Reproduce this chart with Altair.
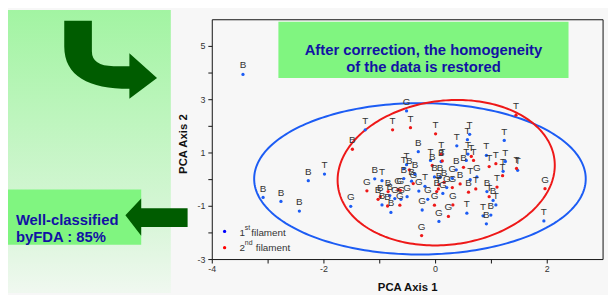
import altair as alt
import pandas as pd
import numpy as np

# ---------------- data ----------------
x1 = [-3.45, -0.52, -1.26, -0.31, 0.38, 0.61, 0.57, 1.23, -2.28, -1.99, -3.09, -2.77, -2.44, -1.52,
      -1.09, -0.96, 1.94, 1.47, 1.21, 1.25, 0.91, 0.58, 0.55, 0.37, 0.74, 0.62, 0.56, 0.85, 0.91, 0.99,
      0.06, -0.24, 0.13, -0.14, -0.30, -0.19, -0.43, -0.57, -0.52, -0.57, -0.09, 0.10, -0.02, 0.08,
      -0.62, -0.51, -0.73, -0.96, -0.80, 1.03, 0.20, -0.37, 0.30, -0.82, 0.92, 1.08]
y1 = [3.95, 2.58, 1.87, 1.05, 1.27, 1.70, 1.50, 1.47, -0.04, 0.21, -0.67, -0.82, -1.18, -1.00,
      0.03, -0.04, -1.55, 0.35, 0.31, 0.68, 0.91, 0.96, 0.72, 0.37, 0.10, 0.00, -1.26, -1.36, -1.66, -1.33,
      -1.57, -1.14, -0.52, -0.74, -0.43, -0.25, -0.06, 0.04, 0.56, 0.41, 0.72, 0.68, 0.10, 0.10,
      -0.74, -0.64, -0.71, -0.95, -1.23, -0.78, -0.30, 0.20, 0.05, -0.60, -0.45, -0.95]
lab1 = ["B", "G", "T", "B", "T", "T", "T", "T", "B", "T", "B", "B", "B", "G",
        "B", "T", "T", "T", "T", "T", "T", "T", "T", "B", "G", "T", "T", "T", "B", "B",
        "G", "G", "G", "G", "G", "T", "B", "B", "T", "T", "T", "B", "B", "B",
        "G", "G", "G", "B", "B", "B", "G", "B", "G", "B", "B", "T"]

x2 = [-0.77, -0.45, 0.00, -1.49, 1.44, 0.10, 1.96, -0.25, -1.23, 0.23, -0.99, -1.03, -0.86, -0.67,
      -0.64, -0.47, -0.06, 0.06, -0.02, 0.31, 0.44, 0.59, 0.72, 1.10, 0.96, 0.50, 0.64, 0.68, 0.96,
      1.08, 1.45, 1.20, -0.63, 0.05, 0.15, 0.30, 0.02, -0.85, -0.40, 0.12]
y2 = [1.87, 1.95, 1.72, 1.14, 2.42, 0.95, -0.34, -2.10, -0.42, -1.38, -0.64, -0.74, -0.99, -0.37,
      -0.96, 0.37, 0.53, -0.19, -0.96, -0.95, -0.16, -0.47, -0.35, -0.28, -0.64, 0.46, 0.87, 0.72, 0.49,
      0.60, 0.42, 0.15, -0.40, -0.35, -0.10, -0.30, -0.45, -0.45, -0.15, 0.70]
lab2 = ["T", "T", "T", "B", "T", "T", "G", "G", "G", "G", "B", "B", "B", "G",
        "G", "B", "B", "B", "G", "G", "B", "B", "T", "T", "T", "B", "T", "T", "T",
        "T", "T", "T", "G", "T", "B", "G", "B", "B", "G", "T"]

# axis ticks and tick labels
x_ticks = [-4, -3, -2, -1, 0, 1, 2]
x_tick_labels = [-4, -2, 0, 2]
y_ticks = [-3, -2, -1, 0, 1, 2, 3, 4, 5]
y_tick_labels = [-3, -1, 1, 3, 5]
x_title = "PCA Axis 1"
y_title = "PCA Axis 2"

# confidence ellipses: centre (data units), semi-axes (px), tilt (deg)
ell_names = ["1", "2"]
ell_cx = [-0.28, 0.19]
ell_cy = [0.03, 0.26]
ell_a = [168.0, 110.5]
ell_b = [76.7, 73.0]
ell_tilt = [0.0, 7.0]

title_lines = ["After correction, the homogeneity", "of the data is restored"]
box_lines = ["Well-classified", "byFDA : 85%"]

W, H = 396, 243
XD, YD = [-4, 3], [-3, 6]
PX_X = W / (XD[1] - XD[0])
PX_Y = H / (YD[1] - YD[0])

pts = pd.DataFrame({
    "x": x1 + x2,
    "y": y1 + y2,
    "lab": lab1 + lab2,
    "fil": ["1"] * len(x1) + ["2"] * len(x2),
})

rows = []
for n, cx, cy, a, b, th in zip(ell_names, ell_cx, ell_cy, ell_a, ell_b, ell_tilt):
    t = np.linspace(0, 2 * np.pi, 241)
    r = np.deg2rad(th)
    dx = a * np.cos(t) * np.cos(r) - b * np.sin(t) * np.sin(r)
    dy = a * np.cos(t) * np.sin(r) + b * np.sin(t) * np.cos(r)
    for i in range(len(t)):
        rows.append({"x": cx + dx[i] / PX_X, "y": cy + dy[i] / PX_Y, "i": i, "e": n})
ell = pd.DataFrame(rows)

FONT = "Liberation Sans"
INK = "#111111"
one = pd.DataFrame({"k": [0]})
xs = alt.Scale(domain=XD, nice=False, zero=False)
ys = alt.Scale(domain=YD, nice=False, zero=False)
col = alt.Scale(domain=["1", "2"], range=["#0000ff", "#ff0000"])
X = lambda f: alt.X(f, scale=xs, axis=None)
Y = lambda f: alt.Y(f, scale=ys, axis=None)


def rect(x, x2, y, y2, fill):
    return alt.Chart(one).mark_rect(fill=fill, clip=False).encode(
        x=alt.value(x), x2=alt.value(x2), y=alt.value(y), y2=alt.value(y2))


# green left strip (the panel colour is the chart background)
bg = alt.Chart(one).mark_rect(
    clip=False,
    color=alt.Gradient(gradient="linear", x1=0, x2=0, y1=0, y2=1,
                       stops=[alt.GradientStop(color="#a2f4a2", offset=0),
                              alt.GradientStop(color="#d8f6d8", offset=0.75),
                              alt.GradientStop(color="#f0f8f0", offset=1)])
).encode(x=alt.value(-207), x2=alt.value(-42), y=alt.value(-10), y2=alt.value(277))

tbox = rect(67, 361, 2, 59, "#80f580")
lbox = rect(-207, -72, 172, 228, "#80f580")

arrow1_path = ("M-0.94,-0.78 L-0.38,-0.78 L-0.38,-0.16 Q-0.38,0.14 0.06,0.14 L0.38,0.14 "
               "L0.38,-0.12 L0.94,0.38 L0.38,0.8 L0.38,0.6 C-0.44,0.6 -0.94,0.34 -0.94,-0.26 Z")
arrow2_path = "M-0.97,-0.06 L-0.47,-0.59 L-0.47,-0.28 L1,-0.28 L1,0.31 L-0.47,0.31 L-0.47,0.59 Z"
arrow1 = alt.Chart(one).mark_point(shape=arrow1_path, filled=True, fill="#005c00", opacity=1,
                                   strokeWidth=0, size=10000, clip=False).encode(
    x=alt.value(-103), y=alt.value(40))
arrow2 = alt.Chart(one).mark_point(shape=arrow2_path, filled=True, fill="#005c00", opacity=1,
                                   strokeWidth=0, size=4096, clip=False).encode(
    x=alt.value(-57), y=alt.value(200))

ttext = alt.Chart(one).mark_text(text=title_lines, font=FONT, fontSize=15, fontWeight="bold",
                                 color="#1212a4", align="center", baseline="middle",
                                 lineHeight=16.6, clip=False).encode(
    x=alt.value(214), y=alt.value(31))
btext = alt.Chart(one).mark_text(text=box_lines, font=FONT, fontSize=15, fontWeight="bold",
                                 color="#1212a4", align="left", baseline="middle",
                                 lineHeight=17.6, clip=False).encode(
    x=alt.value(-199), y=alt.value(202.5))

frame = alt.Chart(one).mark_rect(fill="transparent", stroke=INK, strokeWidth=1).encode(
    x=alt.value(0), x2=alt.value(W), y=alt.value(0), y2=alt.value(H))

# axes drawn from the tick arrays through the chart's scales (hyphen minus as in the picture)
xt = alt.Chart(pd.DataFrame({"x": x_ticks})).mark_rule(color=INK, strokeWidth=1).encode(
    x=X("x:Q"), y=alt.value(H), y2=alt.value(H + 4))
xl = alt.Chart(pd.DataFrame({"x": x_tick_labels, "t": [str(v) for v in x_tick_labels]})).mark_text(
    font=FONT, fontSize=9, color="#333333", baseline="middle").encode(
    x=X("x:Q"), y=alt.value(H + 10), text="t:N")
yt = alt.Chart(pd.DataFrame({"y": y_ticks})).mark_rule(color=INK, strokeWidth=1).encode(
    y=Y("y:Q"), x=alt.value(-4), x2=alt.value(0))
yl = alt.Chart(pd.DataFrame({"y": y_tick_labels, "t": [str(v) for v in y_tick_labels]})).mark_text(
    font=FONT, fontSize=9, color="#333333", align="right", baseline="middle").encode(
    y=Y("y:Q"), x=alt.value(-7), text="t:N")
xtitle = alt.Chart(one).mark_text(text=x_title, font=FONT, fontSize=11.5, fontWeight="bold",
                                  color=INK, baseline="middle").encode(
    x=alt.value(W / 2), y=alt.value(272))
ytitle = alt.Chart(one).mark_text(text=y_title, font=FONT, fontSize=11.5, fontWeight="bold",
                                  color=INK, baseline="middle", angle=270).encode(
    x=alt.value(-29), y=alt.value(126))

ellipses = alt.Chart(ell).mark_line(strokeWidth=2).encode(
    x=X("x:Q"), y=Y("y:Q"),
    order="i:Q",
    detail="e:N",
    color=alt.Color("e:N", scale=alt.Scale(domain=["1", "2"], range=["#1c5cf4", "#ee1818"]), legend=None),
)

base = alt.Chart(pts)
points = base.mark_circle(size=11, opacity=1).encode(
    x=X("x:Q"), y=Y("y:Q"),
    color=alt.Color("fil:N", scale=col, legend=None),
)
labels = base.mark_text(font=FONT, fontSize=10, color="#333333", dy=-9).encode(
    x=X("x:Q"), y=Y("y:Q"), text="lab:N")


# legend drawn inside the plot
def ltxt(t, x, y, size=10):
    return alt.Chart(one).mark_text(text=t, font=FONT, fontSize=size, color="#333333",
                                    align="left", baseline="middle").encode(
        x=alt.value(x), y=alt.value(y))


leg = [
    alt.Chart(one).mark_circle(size=11, opacity=1, color="#0000ff").encode(x=alt.value(12.5), y=alt.value(214.5)),
    alt.Chart(one).mark_circle(size=11, opacity=1, color="#ff0000").encode(x=alt.value(12.5), y=alt.value(231)),
    ltxt("1", 27.5, 216), ltxt("st", 33, 211.5, 7), ltxt("filament", 39.5, 216),
    ltxt("2", 27.5, 231), ltxt("nd", 33, 226.5, 7), ltxt("filament", 44, 231),
]

chart = alt.layer(bg, tbox, lbox, arrow1, arrow2, frame, xt, xl, yt, yl, xtitle, ytitle,
                  ellipses, points, labels, *leg, ttext, btext).properties(
    width=W, height=H,
    autosize=alt.AutoSizeParams(type="none"),
    padding={"left": 207, "top": 10, "right": 5, "bottom": 34},
    background="#f7f7f7",
).configure_view(stroke=None)

chart.save("out.html", embed_options={"renderer": "svg", "actions": False})
